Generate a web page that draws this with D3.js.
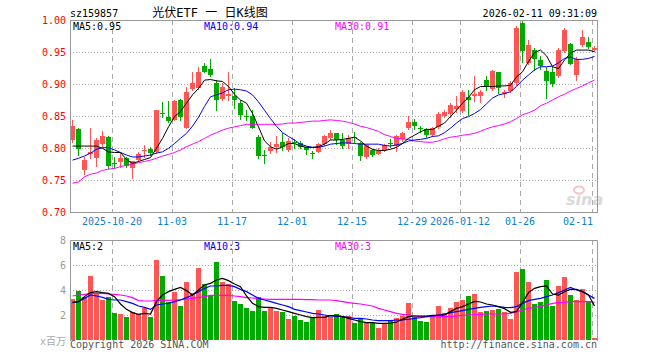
<!DOCTYPE html>
<html>
<head>
<meta charset="utf-8">
<script src="https://cdn.jsdelivr.net/npm/d3@7"></script>
<style>
  body { margin: 0; background: #fff; }
  svg { display: block; }
  text { font-family: "DejaVu Sans Mono", "Liberation Mono", monospace; font-size: 10px; }
</style>
</head>
<body>
<div id="chart"></div>
<script>
// trading days shown (one slot per day)
const dates = [
  "2025-10-09","2025-10-10","2025-10-13","2025-10-14","2025-10-15","2025-10-16","2025-10-17",
  "2025-10-20","2025-10-21","2025-10-22","2025-10-23","2025-10-24",
  "2025-10-27","2025-10-28","2025-10-29","2025-10-30","2025-10-31",
  "2025-11-03","2025-11-04","2025-11-05","2025-11-06","2025-11-07",
  "2025-11-10","2025-11-11","2025-11-12","2025-11-13","2025-11-14",
  "2025-11-17","2025-11-18","2025-11-19","2025-11-20","2025-11-21",
  "2025-11-24","2025-11-25","2025-11-26","2025-11-27","2025-11-28",
  "2025-12-01","2025-12-02","2025-12-03","2025-12-04","2025-12-05",
  "2025-12-08","2025-12-09","2025-12-10","2025-12-11","2025-12-12",
  "2025-12-15","2025-12-16","2025-12-17","2025-12-18","2025-12-19",
  "2025-12-22","2025-12-23","2025-12-24","2025-12-25","2025-12-26",
  "2025-12-29","2025-12-30","2025-12-31",
  "2026-01-05","2026-01-06","2026-01-07","2026-01-08","2026-01-09",
  "2026-01-12","2026-01-13","2026-01-14","2026-01-15","2026-01-16",
  "2026-01-19","2026-01-20","2026-01-21","2026-01-22","2026-01-23",
  "2026-01-26","2026-01-27","2026-01-28","2026-01-29","2026-01-30",
  "2026-02-02","2026-02-03","2026-02-04","2026-02-05","2026-02-06",
  "2026-02-09","2026-02-10","2026-02-11"
];

const open = [0.8115,0.829,0.765,0.790,0.785,0.806,0.817,0.777,0.779,0.785,
  0.768,0.781,0.795,0.799,0.793,0.855,0.849,0.845,0.875,0.831,
  0.893,0.893,0.928,0.923,0.901,0.878,0.881,0.881,0.871,0.8505,
  0.8505,0.817,0.789,0.795,0.801,0.809,0.798,0.809,0.808,0.801,
  0.792,0.793,0.806,0.815,0.824,0.8125,0.806,0.817,0.808,0.786,
  0.797,0.792,0.797,0.808,0.803,0.815,0.831,0.841,0.831,0.829,
  0.820,0.832,0.849,0.853,0.862,0.859,0.879,0.881,0.881,0.906,
  0.892,0.918,0.885,0.888,0.901,0.996,0.933,0.953,0.9375,0.921,
  0.918,0.9125,0.952,0.9625,0.914,0.961,0.966,0.954];
const close = [0.834,0.798,0.781,0.793,0.8125,0.819,0.771,0.775,0.785,0.772,
  0.779,0.791,0.797,0.792,0.859,0.853,0.843,0.874,0.848,0.888,
  0.902,0.918,0.919,0.914,0.875,0.896,0.884,0.874,0.852,0.849,
  0.832,0.788,0.7875,0.802,0.806,0.8005,0.8115,0.808,0.801,0.796,
  0.791,0.806,0.819,0.823,0.8125,0.803,0.815,0.816,0.7875,0.805,
  0.789,0.796,0.805,0.807,0.819,0.824,0.841,0.834,0.830,0.820,
  0.831,0.853,0.856,0.867,0.866,0.888,0.875,0.884,0.888,0.897,
  0.920,0.893,0.888,0.901,0.987,0.953,0.961,0.9385,0.928,0.906,
  0.900,0.953,0.985,0.932,0.9385,0.973,0.958,0.957];
const high = [0.843,0.831,0.786,0.832,0.815,0.826,0.818,0.786,0.792,0.786,
  0.780,0.793,0.805,0.801,0.860,0.872,0.874,0.875,0.877,0.896,
  0.918,0.927,0.933,0.939,0.906,0.901,0.918,0.893,0.875,0.859,
  0.859,0.820,0.797,0.810,0.819,0.823,0.815,0.8135,0.811,0.803,
  0.796,0.808,0.820,0.828,0.824,0.824,0.820,0.825,0.810,0.806,
  0.798,0.800,0.807,0.814,0.820,0.825,0.850,0.846,0.834,0.832,
  0.833,0.857,0.860,0.871,0.881,0.890,0.891,0.9125,0.890,0.9125,
  0.922,0.919,0.890,0.904,0.990,1.000,0.968,0.956,0.944,0.927,
  0.927,0.956,0.987,0.964,0.942,0.985,0.974,0.960];
const low = [0.810,0.789,0.760,0.784,0.772,0.803,0.768,0.768,0.771,0.770,
  0.753,0.780,0.786,0.789,0.792,0.849,0.841,0.844,0.844,0.831,
  0.891,0.892,0.918,0.9125,0.859,0.875,0.875,0.862,0.845,0.844,
  0.831,0.784,0.776,0.792,0.793,0.797,0.796,0.7995,0.7995,0.791,
  0.784,0.793,0.805,0.814,0.806,0.7995,0.7995,0.810,0.782,0.784,
  0.7875,0.791,0.796,0.801,0.796,0.811,0.829,0.829,0.825,0.817,
  0.819,0.831,0.848,0.849,0.857,0.857,0.852,0.874,0.872,0.891,
  0.891,0.886,0.880,0.887,0.898,0.935,0.932,0.922,0.923,0.878,
  0.897,0.911,0.950,0.931,0.907,0.959,0.956,0.952];

// price moving averages
const ma5 = [0.803,0.803,0.803,0.803,0.803,0.7995,0.794,0.793,0.793,0.782,
  0.776,0.779,0.782,0.785,0.7995,0.815,0.833,0.849,0.857,0.870,
  0.883,0.893,0.906,0.907,0.905,0.904,0.896,0.884,0.875,0.870,
  0.854,0.833,0.811,0.802,0.798,0.802,0.807,0.807,0.803,0.801,
  0.801,0.802,0.806,0.8125,0.8125,0.8135,0.815,0.817,0.811,0.803,
  0.798,0.796,0.796,0.798,0.801,0.807,0.815,0.820,0.8255,0.829,
  0.829,0.834,0.839,0.849,0.859,0.870,0.879,0.891,0.896,0.896,
  0.896,0.897,0.897,0.898,0.911,0.919,0.935,0.949,0.953,0.944,
  0.927,0.924,0.9375,0.948,0.953,0.953,0.953,0.9505];
const ma10 = [0.781,0.784,0.7875,0.792,0.798,0.8005,0.8005,0.797,0.793,0.789,
  0.786,0.786,0.7875,0.789,0.792,0.794,0.7995,0.807,0.815,0.823,
  0.834,0.848,0.865,0.880,0.883,0.886,0.891,0.892,0.891,0.889,
  0.883,0.872,0.859,0.846,0.834,0.824,0.818,0.8125,0.806,0.803,
  0.801,0.801,0.803,0.806,0.807,0.808,0.808,0.807,0.806,0.806,
  0.806,0.806,0.804,0.803,0.805,0.807,0.811,0.8125,0.8135,0.815,
  0.818,0.819,0.824,0.831,0.839,0.846,0.849,0.854,0.860,0.869,
  0.878,0.883,0.885,0.888,0.896,0.906,0.914,0.922,0.927,0.927,
  0.928,0.933,0.940,0.942,0.9385,0.9385,0.940,0.943];
const ma30 = [0.745,0.747,0.755,0.759,0.761,0.765,0.767,0.768,0.771,0.773,
  0.775,0.777,0.779,0.781,0.784,0.7875,0.790,0.793,0.797,0.802,
  0.806,0.810,0.815,0.820,0.824,0.828,0.831,0.833,0.835,0.837,
  0.837,0.837,0.837,0.837,0.837,0.8375,0.839,0.839,0.840,0.841,
  0.842,0.842,0.843,0.844,0.843,0.842,0.840,0.8375,0.834,0.832,
  0.829,0.826,0.821,0.818,0.815,0.814,0.8135,0.811,0.810,0.809,
  0.809,0.811,0.8145,0.817,0.818,0.820,0.821,0.823,0.826,0.830,
  0.833,0.835,0.8375,0.841,0.846,0.852,0.855,0.859,0.866,0.870,
  0.875,0.880,0.884,0.889,0.893,0.897,0.902,0.906];

// volume in millions
const vol = [3.28,3.92,3.41,5.12,3.79,3.2,3.41,2.19,2.08,1.81,
  2.21,2.05,2.56,1.81,6.4,5.12,3.07,3.84,2.72,4.64,
  3.73,5.76,4.48,3.6,6.24,4.64,4.48,3.12,2.88,2.56,
  2.32,3.47,2.32,2.59,2.32,2.24,1.68,1.95,1.6,1.44,
  1.76,2.4,1.92,1.87,2.08,1.81,1.92,1.39,1.73,1.47,
  1.39,0.99,1.33,1.6,1.76,1.95,2.99,1.87,1.55,1.47,
  1.92,2.72,2.13,2.59,3.04,3.2,3.52,3.68,2.24,2.32,
  2.4,2.48,2.27,1.71,5.44,5.68,4.64,2.88,3.04,4.8,
  2.72,4.32,5.07,3.6,3.2,4.08,3.12,0.16];
const volMa5 = [2.99,3.07,3.47,3.79,3.87,3.79,3.73,3.47,2.88,2.45,
  2.19,2.05,2.13,2.08,3.07,3.6,3.87,4.05,4.21,3.95,
  3.6,4.0,4.4,4.53,4.8,4.93,4.75,4.48,4.27,3.52,
  2.93,2.67,2.61,2.61,2.53,2.4,2.27,2.13,2.0,1.87,
  1.79,1.81,1.81,1.95,1.95,1.87,1.73,1.6,1.47,1.39,
  1.39,1.33,1.33,1.33,1.44,1.65,1.87,1.92,1.92,1.92,
  1.97,1.97,2.0,2.27,2.53,2.67,2.88,3.09,3.04,2.88,
  2.8,2.67,2.51,2.21,2.27,2.99,3.79,4.13,4.27,4.32,
  3.68,3.6,3.87,4.05,4.05,3.87,3.6,2.72];
const volMa10 = [3.01,3.07,3.33,3.6,3.52,3.41,3.25,3.2,3.2,3.07,
  2.93,2.72,2.61,2.45,2.8,2.88,2.93,3.07,3.2,3.39,
  3.6,3.87,4.13,4.32,4.32,4.37,4.37,4.27,4.05,3.87,
  3.6,3.33,3.2,3.07,2.93,2.8,2.67,2.45,2.35,2.24,
  2.13,2.08,2.0,1.92,1.89,1.87,1.81,1.73,1.73,1.68,
  1.6,1.55,1.55,1.55,1.6,1.6,1.65,1.73,1.79,1.87,
  1.92,2.0,2.08,2.19,2.27,2.35,2.45,2.53,2.61,2.67,
  2.72,2.67,2.61,2.59,2.67,2.93,3.15,3.25,3.33,3.47,
  3.6,3.79,4.0,4.21,4.0,3.87,3.6,3.33];
const volMa30 = [3.52,3.6,3.65,3.73,3.73,3.73,3.68,3.65,3.6,3.52,
  3.39,3.15,3.12,3.12,3.17,3.17,3.17,3.2,3.23,3.28,
  3.33,3.41,3.47,3.57,3.57,3.57,3.57,3.52,3.47,3.39,
  3.36,3.31,3.28,3.25,3.25,3.25,3.25,3.25,3.25,3.23,
  3.23,3.2,3.2,3.2,3.15,3.07,2.99,2.93,2.88,2.8,
  2.72,2.53,2.4,2.27,2.13,2.05,2.0,1.92,1.87,1.87,
  1.87,1.87,1.87,1.87,1.92,1.97,2.0,2.03,2.05,2.08,
  2.08,2.08,2.08,2.13,2.27,2.4,2.53,2.61,2.67,2.8,
  2.93,2.99,3.01,3.07,3.07,3.07,3.07,3.01];

const tickDates = ["2025-10-20","2025-11-03","2025-11-17","2025-12-01","2025-12-15",
  "2025-12-29","2026-01-12","2026-01-26","2026-02-11"];
const tickLabels = ["2025-10-20","11-03","11-17","12-01","12-15",
  "12-29","2026-01-12","01-26","02-11"];
const priceTicks = [0.70, 0.75, 0.80, 0.85, 0.90, 0.95, 1.00];
const volTicks = [2, 4, 6, 8];

const left = 70, right = 597;
const pTop = 20, pBottom = 212, vTop = 240, vBottom = 340;
const red = "#ff5555", green = "#00aa00", gridCol = "#aaaaaa";

const svg = d3.select("#chart").append("svg")
  .attr("width", 660)
  .attr("height", 360);

// scales
const x = d3.scaleBand().domain(dates).range([left, left + dates.length * 6]);
const y = d3.scaleLinear().domain([0.70, 1.00]).range([pBottom, pTop]);
const yv = d3.scaleLinear().domain([0, 8]).range([vBottom, vTop]);
const idx = d3.range(dates.length);
const colorOf = i => close[i] >= open[i] ? red : green;

// horizontal dotted grid
svg.append("g").selectAll("line")
  .data(priceTicks.filter(v => v > 0.71 && v < 0.99))
  .join("line")
  .attr("x1", left).attr("x2", right)
  .attr("y1", d => Math.round(y(d)) + 0.5).attr("y2", d => Math.round(y(d)) + 0.5)
  .attr("stroke", gridCol).attr("stroke-dasharray", "1,2");
svg.append("g").selectAll("line")
  .data(volTicks.filter(v => v < 8))
  .join("line")
  .attr("x1", left).attr("x2", right)
  .attr("y1", d => Math.round(yv(d)) + 0.5).attr("y2", d => Math.round(yv(d)) + 0.5)
  .attr("stroke", gridCol).attr("stroke-dasharray", "1,2");

// vertical dashed grid in both panels
[[pTop, pBottom], [vTop, vBottom]].forEach(([t, b]) => {
  svg.append("g").selectAll("line")
    .data(tickDates)
    .join("line")
    .attr("x1", d => x(d) + 0.5).attr("x2", d => x(d) + 0.5)
    .attr("y1", t).attr("y2", b)
    .attr("stroke", gridCol).attr("stroke-dasharray", "5,4");
});

// watermark
const wm = svg.append("g");
wm.append("ellipse").attr("cx", 579).attr("cy", 190).attr("rx", 5).attr("ry", 3.5)
  .attr("fill", "none").attr("stroke", "#f2c4c4").attr("stroke-width", 2);
wm.append("text").attr("x", 566).attr("y", 205)
  .style("font-family", "DejaVu Sans, sans-serif").style("font-size", "16px")
  .style("font-style", "italic").style("font-weight", "bold")
  .attr("fill", "#d9d9d9").text("sina");

// candles
const cg = svg.append("g").attr("shape-rendering", "crispEdges");
cg.selectAll("line")
  .data(idx)
  .join("line")
  .attr("x1", i => x(dates[i]) + 2.5).attr("x2", i => x(dates[i]) + 2.5)
  .attr("y1", i => Math.round(y(high[i]))).attr("y2", i => Math.round(y(low[i])) + 1)
  .attr("stroke", colorOf);
cg.selectAll("rect")
  .data(idx)
  .join("rect")
  .attr("x", i => x(dates[i]))
  .attr("width", 5)
  .attr("y", i => Math.round(y(Math.max(open[i], close[i]))))
  .attr("height", i => Math.max(1, Math.round(Math.abs(y(open[i]) - y(close[i])))))
  .attr("fill", colorOf);

// volume bars
svg.append("g").attr("shape-rendering", "crispEdges")
  .selectAll("rect")
  .data(idx)
  .join("rect")
  .attr("x", i => x(dates[i]))
  .attr("width", 5)
  .attr("y", i => yv(vol[i]))
  .attr("height", i => vBottom - yv(vol[i]))
  .attr("fill", colorOf);

// moving average lines
const cx = (d, i) => x(dates[i]) + 2.5;
const pLine = d3.line().x(cx).y(d => y(d));
const vLine = d3.line().x(cx).y(d => yv(d));
[[ma30, "#ff00ff"], [ma10, "#0000ff"], [ma5, "#000000"]].forEach(([s, c]) => {
  svg.append("path").datum(s).attr("d", pLine)
    .attr("fill", "none").attr("stroke", c).attr("stroke-width", 1);
});
[[volMa30, "#ff00ff"], [volMa10, "#0000ff"], [volMa5, "#000000"]].forEach(([s, c]) => {
  svg.append("path").datum(s).attr("d", vLine)
    .attr("fill", "none").attr("stroke", c).attr("stroke-width", 1.2);
});

// panel borders
const bd = svg.append("g").attr("fill", "none").attr("stroke", "#999");
bd.append("rect").attr("x", left + 0.5).attr("y", pTop + 0.5)
  .attr("width", right - left).attr("height", pBottom - pTop);
bd.append("path")
  .attr("d", `M${left + 0.5},${vBottom + 1}V${vTop + 0.5}H${right + 0.5}V${vBottom + 1}`);

// axes
const yAxis = svg.append("g").attr("transform", `translate(${left},0)`)
  .call(d3.axisLeft(y).tickValues(priceTicks).tickFormat(d3.format(".2f")).tickSize(0).tickPadding(4));
yAxis.select(".domain").remove();
yAxis.selectAll("text").attr("fill", "#ff0000").style("font-family", null).style("font-size", null);

const vAxis = svg.append("g").attr("transform", `translate(${left},0)`)
  .call(d3.axisLeft(yv).tickValues(volTicks).tickSize(0).tickPadding(4));
vAxis.select(".domain").remove();
vAxis.selectAll("text").attr("fill", "#999");

const xAxis = svg.append("g").attr("transform", `translate(-3,${pBottom})`)
  .call(d3.axisBottom(x).tickValues(tickDates)
    .tickFormat(d => tickLabels[tickDates.indexOf(d)]).tickSize(0).tickPadding(6));
xAxis.select(".domain").remove();
xAxis.selectAll("text").attr("fill", "#1080d0");
xAxis.selectAll(".tick").filter(d => d === tickDates[tickDates.length - 1])
  .select("text").attr("text-anchor", "end").attr("x", 1);
svg.selectAll(".tick text").attr("font-family", null).attr("font-size", null);
svg.selectAll(".tick").attr("font-family", null);
svg.selectAll("g").filter(function() { return this.hasAttribute("font-family"); })
  .attr("font-family", null).attr("font-size", null);

// header and labels
const label = (tx, ty, s, fill, anchor) => svg.append("text")
  .attr("x", tx).attr("y", ty).attr("fill", fill)
  .attr("text-anchor", anchor || "start").text(s);
label(70, 16.5, "sz159857", "#000");
label(597, 16.5, "2026-02-11 09:31:09", "#000", "end");
svg.append("text").attr("x", 210).attr("y", 17).attr("text-anchor", "middle")
  .style("font-family", "'DejaVu Sans Mono', 'Noto Sans CJK SC', monospace")
  .style("font-size", "12px").text("光伏ETF 一 日K线图");
label(73, 30, "MA5:0.95", "#000");
label(204, 30, "MA10:0.94", "#0000ff");
label(335, 30, "MA30:0.91", "#ff00ff");
label(73, 250, "MA5:2", "#000");
label(204, 250, "MA10:3", "#0000ff");
label(335, 250, "MA30:3", "#ff00ff");
svg.append("text").attr("x", 66).attr("y", 345).attr("text-anchor", "end")
  .attr("fill", "#aaa")
  .style("font-family", "'DejaVu Sans Mono', 'Noto Sans CJK SC', monospace")
  .text("x百万");
label(70, 348, "Copyright 2026 SINA.COM", "#555");
label(597, 348, "http://finance.sina.com.cn", "#555", "end");
</script>
</body>
</html>
